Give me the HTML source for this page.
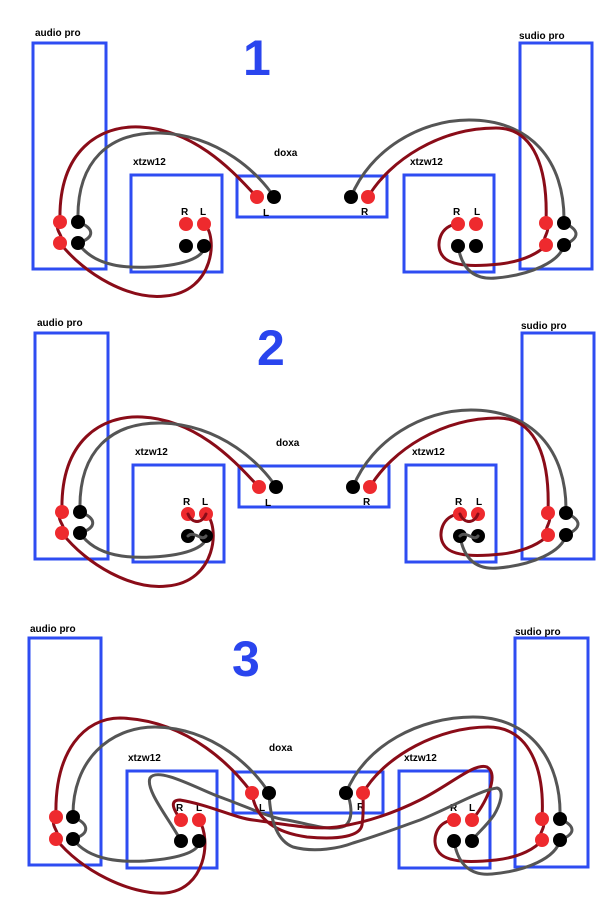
<!DOCTYPE html>
<html><head><meta charset="utf-8"><style>
html,body{margin:0;padding:0;background:#fff;width:600px;height:900px;overflow:hidden}
svg{display:block}
.t{font-family:"Liberation Sans",sans-serif;font-weight:bold;font-size:10px;fill:#000}
.n{font-family:"Liberation Sans",sans-serif;font-weight:bold;font-size:50px;fill:#2a45ee}
.b{fill:none;stroke:#2e4cf2;stroke-width:3}
.r{fill:none;stroke:#8a0c18;stroke-width:3;stroke-linecap:round}
.g{fill:none;stroke:#555;stroke-width:3;stroke-linecap:round}
.rc{fill:#ee2a2e}.bc{fill:#000}
</style></head><body>
<svg width="600" height="900" viewBox="0 0 600 900">
<defs>
<g id="base">
<rect class="b" x="33" y="43" width="73" height="226"/>
<rect class="b" x="520" y="43" width="72" height="226"/>
<rect class="b" x="131" y="175" width="91" height="97"/>
<rect class="b" x="237" y="176" width="150" height="41"/>
<rect class="b" x="404" y="175" width="90" height="97"/>
<text class="t" x="35" y="36">audio pro</text>
<text class="t" x="519" y="39">sudio pro</text>
<text class="t" x="133" y="165">xtzw12</text>
<text class="t" x="274" y="156">doxa</text>
<text class="t" x="410" y="165">xtzw12</text>
<text class="t" x="181" y="215">R</text><text class="t" x="200" y="215">L</text>
<text class="t" x="263" y="216">L</text><text class="t" x="361" y="215">R</text>
<text class="t" x="453" y="215">R</text><text class="t" x="474" y="215">L</text>
<path class="r" d="M60,222 C58,150 100,125 140,127 C200,130 240,180 257,197"/>
<path class="g" d="M78,222 C76,160 110,132 160,133 C220,135 260,175 274,197"/>
<path class="r" d="M60,222 C52,230 66,236 60,243"/>
<path class="g" d="M78,222 C95,228 95,238 78,243"/>
<path class="g" d="M78,243 C95,268 130,268 150,267 C190,265 205,255 204,246"/>
<path class="r" d="M60,243 C85,275 130,300 165,296 C215,292 218,235 204,224"/>
<path class="g" d="M351,197 C370,150 420,120 469,120 C530,120 565,160 564,222"/>
<path class="r" d="M368,197 C390,160 440,128 496,128 C535,128 548,170 546,222"/>
<path class="g" d="M564,223 C580,230 580,238 564,245"/>
<path class="r" d="M546,223 C552,232 540,238 546,245"/>
<path class="r" d="M458,224 C440,225 435,245 442,255 C450,268 480,266 500,264 C525,261 540,252 546,245"/>
<path class="g" d="M458,246 C462,270 475,280 496,278 C530,275 560,262 564,245"/>
<circle class="rc" cx="60" cy="222" r="7"/><circle class="rc" cx="60" cy="243" r="7"/>
<circle class="bc" cx="78" cy="222" r="7"/><circle class="bc" cx="78" cy="243" r="7"/>
<circle class="rc" cx="186" cy="224" r="7"/><circle class="rc" cx="204" cy="224" r="7"/>
<circle class="bc" cx="186" cy="246" r="7"/><circle class="bc" cx="204" cy="246" r="7"/>
<circle class="rc" cx="257" cy="197" r="7"/><circle class="bc" cx="274" cy="197" r="7"/>
<circle class="bc" cx="351" cy="197" r="7"/><circle class="rc" cx="368" cy="197" r="7"/>
<circle class="rc" cx="458" cy="224" r="7"/><circle class="rc" cx="476" cy="224" r="7"/>
<circle class="bc" cx="458" cy="246" r="7"/><circle class="bc" cx="476" cy="246" r="7"/>
<circle class="rc" cx="546" cy="223" r="7"/><circle class="rc" cx="546" cy="245" r="7"/>
<circle class="bc" cx="564" cy="223" r="7"/><circle class="bc" cx="564" cy="245" r="7"/>
</g>
</defs>
<use href="#base"/>
<text class="n" x="243" y="75">1</text>
<g transform="translate(2,290)">
<use href="#base"/>
<path class="r" d="M186,224 C190,234 200,234 204,224"/>
<path class="g" d="M186,246 C192,240 200,252 204,246"/>
<path class="r" d="M458,224 C462,234 472,234 476,224"/>
<path class="g" d="M458,246 C464,240 472,252 476,246"/>
</g>
<text class="n" x="257" y="365">2</text>

<!-- diagram 3 -->
<rect class="b" x="29" y="638" width="72" height="227"/>
<rect class="b" x="515" y="638" width="73" height="229"/>
<rect class="b" x="127" y="771" width="90" height="97"/>
<rect class="b" x="233" y="772" width="150" height="41"/>
<rect class="b" x="399" y="771" width="91" height="97"/>
<text class="t" x="30" y="632">audio pro</text>
<text class="t" x="515" y="635">sudio pro</text>
<text class="t" x="128" y="761">xtzw12</text>
<text class="t" x="269" y="751">doxa</text>
<text class="t" x="404" y="761">xtzw12</text>
<text class="n" x="232" y="676">3</text>
<text class="t" x="176" y="811">R</text><text class="t" x="196" y="811">L</text>
<text class="t" x="259" y="811">L</text><text class="t" x="357" y="810">R</text>
<text class="t" x="450" y="811">R</text><text class="t" x="469" y="811">L</text>
<path class="r" d="M56,817 C54,750 85,718 120,718 C190,720 235,770 252,793"/>
<path class="g" d="M73,817 C72,760 110,727 155,727 C215,728 255,770 269,793"/>
<path class="r" d="M56,817 C48,826 62,832 56,839"/>
<path class="g" d="M73,817 C90,824 90,834 73,839"/>
<path class="g" d="M73,839 C90,862 125,862 145,861 C185,858 200,850 199,841"/>
<path class="r" d="M56,839 C80,870 130,895 165,893 C205,890 212,840 199,820"/>
<path class="g" d="M346,793 C365,745 420,717 473,717 C530,717 562,760 560,819"/>
<path class="r" d="M363,793 C385,755 440,727 488,727 C530,727 545,770 542,819"/>
<path class="g" d="M560,819 C576,826 576,834 560,840"/>
<path class="r" d="M542,819 C548,828 536,834 542,840"/>
<path class="r" d="M454,820 C436,821 431,841 438,851 C446,864 476,862 496,860 C521,857 536,848 542,840"/>
<path class="g" d="M454,841 C458,865 471,876 492,874 C526,871 556,858 560,840"/>
<path class="g" d="M181,841 C170,820 145,790 150,778 C158,766 200,790 220,797 C250,808 270,818 287,820 C310,824 330,832 345,826 C355,818 350,800 347,793"/>
<path class="r" d="M181,820 C172,808 170,800 180,800 C210,805 235,818 253,820 C290,825 315,830 337,827 C370,822 400,810 420,800 C450,785 475,762 487,767 C500,775 485,805 472,820"/>
<path class="r" d="M252,793 C255,815 270,832 307,837 C340,840 360,836 362,825 C364,812 363,800 363,793"/>
<path class="g" d="M269,793 C270,815 275,840 293,847 C315,853 340,848 353,843 C380,835 400,827 420,820 C450,808 480,790 497,788 C505,790 500,805 494,815 C485,828 475,835 472,841"/>
<g>
<circle class="rc" cx="56" cy="817" r="7"/><circle class="rc" cx="56" cy="839" r="7"/>
<circle class="bc" cx="73" cy="817" r="7"/><circle class="bc" cx="73" cy="839" r="7"/>
<circle class="rc" cx="181" cy="820" r="7"/><circle class="rc" cx="199" cy="820" r="7"/>
<circle class="bc" cx="181" cy="841" r="7"/><circle class="bc" cx="199" cy="841" r="7"/>
<circle class="rc" cx="252" cy="793" r="7"/><circle class="bc" cx="269" cy="793" r="7"/>
<circle class="bc" cx="346" cy="793" r="7"/><circle class="rc" cx="363" cy="793" r="7"/>
<circle class="rc" cx="454" cy="820" r="7"/><circle class="rc" cx="472" cy="820" r="7"/>
<circle class="bc" cx="454" cy="841" r="7"/><circle class="bc" cx="472" cy="841" r="7"/>
<circle class="rc" cx="542" cy="819" r="7"/><circle class="rc" cx="542" cy="840" r="7"/>
<circle class="bc" cx="560" cy="819" r="7"/><circle class="bc" cx="560" cy="840" r="7"/>
</g>
</svg>
</body></html>
